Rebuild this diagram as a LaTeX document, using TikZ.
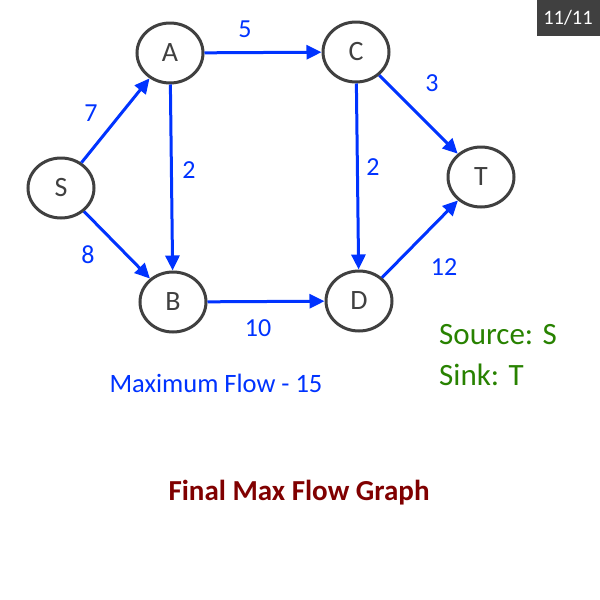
\documentclass[tikz,border=0pt]{standalone}
\usepackage{fontspec}
\setmainfont{Carlito}
\usetikzlibrary{shapes.geometric,arrows.meta}
\definecolor{flowblue}{RGB}{0,51,255}
\definecolor{nodegray}{RGB}{64,64,64}
\definecolor{srcgreen}{RGB}{40,130,0}
\definecolor{titlered}{RGB}{128,0,0}
\begin{document}
\begin{tikzpicture}[x=1pt,y=-1pt,
  vtx/.style={ellipse,draw=nodegray,line width=3pt,minimum width=66pt,minimum height=60pt,inner sep=0pt,text=nodegray,font=\fontsize{28}{30}\selectfont},
  flow/.style={draw=flowblue,line width=3pt,-{Triangle[length=15pt,width=14pt]}},
  wlabel/.style={text=flowblue,font=\fontsize{26}{30}\selectfont,inner sep=0pt}]
\useasboundingbox (0,0) rectangle (600,600);
\fill[white] (0,0) rectangle (600,600);
\node[vtx] (S) at (61,188) {S};
\node[vtx] (A) at (170,53) {A};
\node[vtx] (C) at (356,52) {C};
\node[vtx] (T) at (481,177) {T};
\node[vtx] (B) at (173,302) {B};
\node[vtx] (D) at (359,301) {D};
\draw[flow] (S) -- (A);
\draw[flow] (A) -- (C);
\draw[flow] (A) -- (B);
\draw[flow] (C) -- (D);
\draw[flow] (C) -- (T);
\draw[flow] (S) -- (B);
\draw[flow] (B) -- (D);
\draw[flow] (D) -- (T);
\node[wlabel] (l5) at (245,29) {5};
\node[wlabel] (l7) at (91,113) {7};
\node[wlabel] (l2a) at (189,170) {2};
\node[wlabel] (l3) at (432,83) {3};
\node[wlabel] (l2b) at (373,167) {2};
\node[wlabel] (l8) at (88,255) {8};
\node[wlabel] (l10) at (258,328) {10};
\node[wlabel] (l12) at (444,267) {12};
\node[text=flowblue,font=\fontsize{26.5}{30}\selectfont,inner sep=0pt] (mf) at (216,383) {Maximum Flow - 15};
\node[text=srcgreen,font=\fontsize{31}{36}\selectfont,inner sep=0pt,anchor=west] (src) at (439,335) {Source: S};
\node[text=srcgreen,font=\fontsize{31}{36}\selectfont,inner sep=0pt,anchor=west] (snk) at (439,375) {Sink: T};
\node[text=titlered,font=\fontsize{29}{32}\selectfont\bfseries,inner sep=0pt] (title) at (299,493) {Final Max Flow Graph};
\fill[nodegray] (537,0) rectangle (600,36);
\node[text=white,font=\fontsize{20.5}{24}\selectfont,inner sep=0pt] (badge) at (568,18) {11/11};
\end{tikzpicture}
\end{document}
